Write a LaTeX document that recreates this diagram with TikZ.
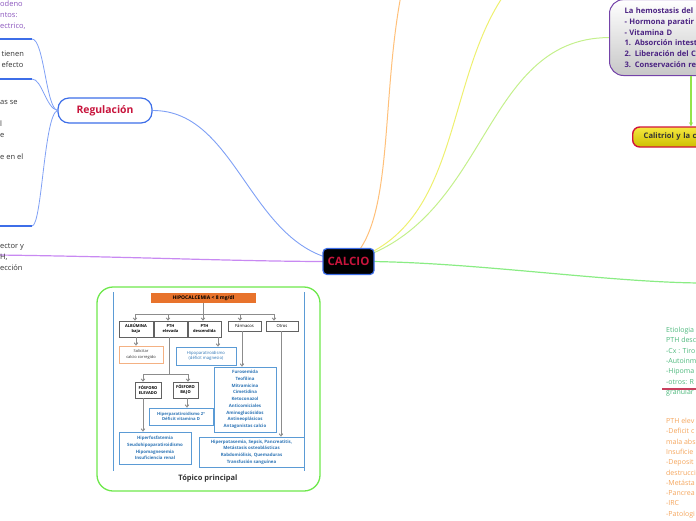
\documentclass[tikz,border=0pt]{standalone}
\usepackage{fontspec}
\setmainfont{Open Sans}
\usetikzlibrary{positioning,arrows.meta,calc,backgrounds}
\definecolor{mmblue}{HTML}{3D6EE8}
\definecolor{mmlblue}{HTML}{7FA0F5}
\definecolor{mmred}{HTML}{C8143C}
\definecolor{mmpurple}{HTML}{8A55BD}
\definecolor{mmlilac}{HTML}{C889F2}
\definecolor{mmorange}{HTML}{FFC07A}
\definecolor{mmyellow}{HTML}{EEF070}
\definecolor{mmlime}{HTML}{C4F08C}
\definecolor{mmgreen}{HTML}{8AEC84}
\definecolor{mmgray}{HTML}{333333}
\definecolor{topgreen}{HTML}{6EE84C}
\definecolor{hpurple}{HTML}{7443A8}
\definecolor{htext}{HTML}{4B2382}
\definecolor{arrgreen}{HTML}{94E44A}
\definecolor{calred}{HTML}{D0143C}
\definecolor{calyel}{HTML}{F2E000}
\definecolor{etgreen}{HTML}{4DB87C}
\definecolor{etorange}{HTML}{F4A55C}
\definecolor{ulred}{HTML}{C8405E}
\definecolor{fcorange}{HTML}{E8732C}
\definecolor{fcpeach}{HTML}{F4B183}
\definecolor{fcblue}{HTML}{5B9BD5}
\definecolor{fctext}{HTML}{2E75B6}
\definecolor{fcgray}{HTML}{8C8C8C}
\tikzset{
  >=Stealth,
  frag/.style={inner sep=0pt, align=left, anchor=north west, font=\fontsize{7.5}{11}\selectfont},
  uline/.style={mmblue, line width=1.6pt},
  branch/.style={mmlblue, line width=0.8pt},
}

\begin{document}
\begin{tikzpicture}[x=1pt,y=-1pt,
  topic/.style={draw=mmblue, line width=1.2pt, rounded corners=11pt, fill=white, text=mmred,
    font=\bfseries\fontsize{10.4}{12}\selectfont, minimum height=25pt, minimum width=94pt},
  central/.style={draw=mmblue, line width=1.2pt, rounded corners=4pt, fill=black, text=mmred,
    font=\bfseries\fontsize{11.5}{13}\selectfont, minimum height=26pt, minimum width=51pt, inner sep=1pt},
  hemobox/.style={draw=hpurple, line width=1pt, rounded corners=14pt, top color=white, bottom color=black!22,
    text=htext, font=\bfseries\fontsize{7.6}{10.8}\selectfont, align=left, text width=140pt,
    inner xsep=15pt, inner ysep=8pt},
  calbox/.style={draw=calred, line width=1.4pt, rounded corners=7pt, top color=calyel!75!white,
    bottom color=calyel!85!black, text=black!80, font=\bfseries\fontsize{7.6}{9}\selectfont,
    align=left, text width=90pt, inner xsep=11pt, minimum height=20pt},
  flowbox/.style={draw=fcgray!70!black, line width=0.6pt, fill=white, align=center, inner sep=0pt,
    font=\bfseries\fontsize{4}{5}\selectfont},
  resbox/.style={draw=fcblue, line width=0.7pt, fill=white, text=fctext, align=center, inner sep=0pt,
    font=\bfseries\fontsize{4.4}{6.7}\selectfont},
  flowarrow/.style={fcgray, line width=0.9pt, -{Straight Barb[length=2.2pt,width=3.6pt]}},
  flowline/.style={fcgray, line width=0.9pt},
]
\useasboundingbox (0,0) rectangle (696,520);
\clip (0,0) rectangle (696,520);

% main nodes
\node[central] (calcio) at (348.5,261.5) {CALCIO};
\node[topic] (reg) at (105,110.5) {Regulación};
\node[hemobox, anchor=south west] (hemo) at (609,76) {La hemostasis del\\- Hormona paratir\\- Vitamina D\\1. Absorción intest\\2. Liberación del C\\3. Conservación re};
\node[calbox, anchor=west] (calit) at (632,137) {Calitriol y la c};

% clipped texts at the borders
\node[frag, text=mmpurple] (fr1) at (0,0.5) {odeno\\ntos:\\ectrico,};
\node[frag, text=mmgray] (fr2) at (1.5,50.5) {tienen\\efecto};
\node[frag, text=mmgray] (fr3) at (0,100) {as se\\[11pt]l\\e\\[11pt]e en el};
\node[frag, text=mmgray] (fr4) at (0,243.5) {ector y\\H,\\ección};
\node[frag, text=etgreen, font=\fontsize{7}{10.3}\selectfont] (etio) at (666,327) {Etiologia\\PTH desc\\-Cx : Tiro\\-Autoinm\\-Hipoma\\-otros: R\\granular};
\node[frag, text=etorange, font=\fontsize{7}{10.3}\selectfont] (pthel) at (666,418) {PTH elev\\-Deficit c\\mala abs\\Insuficie\\-Deposit\\destrucci\\-Metásta\\-Pancrea\\-IRC\\-Patologi};

% free ends
\coordinate (u1) at (0,39);  \coordinate (u1e) at (32,39);
\coordinate (u2) at (0,79);  \coordinate (u2e) at (32,79);
\coordinate (u3) at (0,226); \coordinate (u3e) at (32,226);
\coordinate (pl) at (-2,255);
\coordinate (or1) at (402,-10);
\coordinate (ye1) at (520,-25);
\coordinate (gr1) at (700,283);
\coordinate (ula) at (662,389); \coordinate (ulb) at (700,389);
\coordinate (garr) at (691,0);

\draw[uline] (u1) -- (u1e) (u2) -- (u2e) (u3) -- (u3e);
\draw[branch] (u1e) .. controls (44,39) and (46,108) .. (reg.west);
\draw[branch] (u2e) .. controls (42,79) and (46,108) .. (reg.west);
\draw[branch] (u3e) .. controls (42,226) and (44,115) .. (reg.west);
\draw[ulred, line width=1.5pt] (ula) -- (ulb);
\draw[arrgreen, line width=1.2pt, -{Stealth[length=4pt,width=4pt]}] (hemo.south -| garr) -- (calit.north -| garr);

\begin{scope}[on background layer]
\draw[mmlblue, line width=0.9pt] (reg.east) .. controls (240,110) and (250,255) .. (calcio.center);
\draw[mmlilac, line width=1.2pt] (pl) .. controls (150,257) and (250,262) .. (calcio.center);
\draw[mmorange, line width=1pt] (calcio.center) .. controls (395,225) and (380,100) .. (or1);
\draw[mmyellow, line width=1pt] (calcio.center) .. controls (470,225) and (440,60) .. (ye1);
\draw[mmlime, line width=1pt] (calcio.center) .. controls (490,225) and (480,38) .. (hemo.west);
\draw[mmgreen, line width=1.2pt] (calcio.center) .. controls (460,260) and (600,282) .. (gr1);
\end{scope}

% topic with the picture
\node[draw=topgreen, line width=1.3pt, rounded corners=16pt, fill=white, minimum width=223pt, minimum height=204pt] (topico) at (208.5,389) {};
\node[font=\bfseries\fontsize{7.5}{9}\selectfont, text=mmgray] (toplabel) at (208,479) {Tópico principal};
\draw[fcblue, line width=0.8pt] (113,292) -- (113,471) (304,292) -- (304,471);

\node[flowbox, fill=fcorange, draw=none, minimum width=105pt, minimum height=10pt, font=\bfseries\fontsize{5}{6}\selectfont] (hipo) at (203.5,298) {HIPOCALCEMIA < 8 mg/dl};
\node[flowbox, minimum width=34pt, minimum height=16pt] (alb) at (136,329) {ALBÚMINA\\baja};
\node[flowbox, minimum width=33pt, minimum height=16pt] (ptheleva) at (170.5,329) {PTH\\elevada};
\node[flowbox, minimum width=33pt, minimum height=16pt] (pthdesc) at (204.5,329) {PTH\\descendida};
\node[flowbox, minimum width=33pt, minimum height=10pt, font=\fontsize{4.2}{5}\selectfont] (farm) at (244.5,326) {Fármacos};
\node[flowbox, minimum width=32pt, minimum height=10pt, font=\fontsize{4.2}{5}\selectfont] (otros) at (282,326) {Otros};
\node[resbox, draw=fcpeach, text=black!80, minimum width=44pt, minimum height=17pt, font=\fontsize{4}{5.4}\selectfont] (solic) at (141,354.5) {Solicitar\\calcio corregido};
\node[resbox, minimum width=60pt, minimum height=18pt, font=\fontsize{4.2}{5.6}\selectfont] (hipopara) at (206,356) {Hipoparatiroidismo\\(déficit magnesio)};
\node[resbox, minimum width=62pt, minimum height=65pt] (farmlist) at (245,399.5) {Furosemida\\Teofilina\\Mitramicina\\Cimetidina\\Ketoconazol\\Anticomiciales\\Aminoglucósidos\\Antineoplásicos\\Antagonistas calcio};
\node[flowbox, minimum width=26pt, minimum height=16pt] (fosel) at (148,390) {FÓSFORO\\ELEVADO};
\node[flowbox, minimum width=25pt, minimum height=16pt] (fosbajo) at (185.5,390) {FÓSFORO\\BAJO};
\node[resbox, minimum width=64pt, minimum height=17pt, font=\bfseries\fontsize{4.2}{5.6}\selectfont] (hpt2) at (181,416.5) {Hiperparatiroidismo 2º\\Déficit vitamina D};
\node[resbox, minimum width=72pt, minimum height=32pt] (hiperfos) at (155,448) {Hiperfosfatemia\\Seudohipoparatiroidismo\\Hipomagnesemia\\Insuficiencia renal};
\node[resbox, minimum width=105pt, minimum height=30pt] (otroslist) at (251.5,452) {Hiperpotasemia, Sepsis, Pancreatitis,\\Metástasis osteoblásticas\\Rabdomiólisis, Quemaduras\\Transfusión sanguínea};

% flow connectors
\coordinate (bar1) at (135,314); \coordinate (bar2) at (274,314);
\coordinate (bar3) at (143,374); \coordinate (bar4) at (188,374);
\draw[flowline] (hipo.south) -- (hipo.south |- bar1) (bar1) -- (bar2);
\foreach \bx/\tgt in {135/alb, 168/ptheleva, 203/pthdesc, 240/farm, 274/otros}
  \draw[flowarrow] (\bx,314) -- (\bx,0 |- \tgt.north);
\draw[flowarrow] (alb.south) -- (alb.south |- solic.north);
\draw[flowarrow] (218,337) -- (218,0 |- hipopara.north);
\draw[flowarrow] (242,331) -- (242,0 |- farmlist.north);
\draw[flowarrow] (281,331) -- (281,0 |- otroslist.north);
\draw[flowline] (169,337) -- (169,0 |- bar3) (bar3) -- (bar4);
\draw[flowarrow] (bar3) -- (bar3 |- fosel.north);
\draw[flowarrow] (bar4) -- (bar4 |- fosbajo.north);
\draw[flowarrow] (187,398) -- (187,0 |- hpt2.north);
\draw[flowarrow] (143,398) -- (143,0 |- hiperfos.north);

\end{tikzpicture}
\end{document}
